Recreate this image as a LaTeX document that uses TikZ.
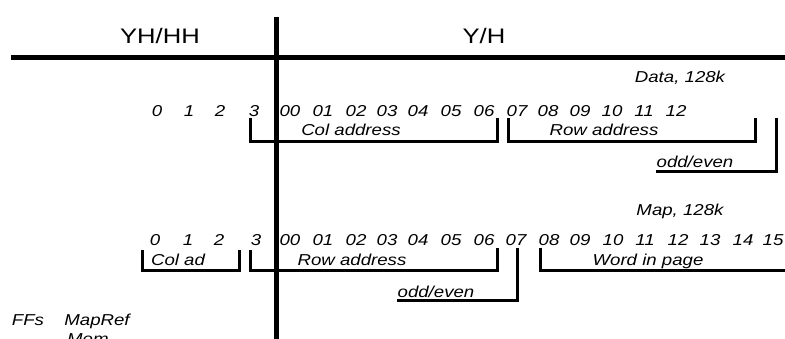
\documentclass[tikz,border=0pt]{standalone}
\usepackage{fontspec}
\newfontfamily\lab{Liberation Sans}[FakeStretch=1.18]
\newfontfamily\hdrfont{Liberation Sans}[FakeStretch=1.22]
\begin{document}
\begin{tikzpicture}[x=1pt,y=-1pt,
  thickrule/.style={line width=5pt},
  bracket/.style={line width=3pt, line join=miter},
  lbl/.style={inner sep=0pt, anchor=base, font=\lab\itshape\fontsize{15.8}{15.8}\selectfont},
  hdr/.style={inner sep=0pt, anchor=base, font=\hdrfont\fontsize{21}{21}\selectfont}]
\useasboundingbox (0,0) rectangle (785,339);
% headers and main rules
\node[hdr] (yhhh) at (160,43.5) {YH/HH};
\node[hdr] (yh) at (484,43.5) {Y/H};
\draw[thickrule] (11,58) -- (785,58);
\draw[thickrule] (276,17) -- (276,339);
% Data, 128k
\node[lbl] (data) at (680,83) {Data, 128k};
\foreach \x/\t [count=\i] in {157/0,189/1,220/2,254/3,290/00,323/01,356/02,387/03,418/04,451/05,484/06,517/07,548/08,580/09,612/10,644/11,676/12}
  \node[lbl] (a\i) at (\x,117) {\t};
\node[lbl] (coladdr) at (351,136) {Col address};
\node[lbl] (rowaddr) at (604,136) {Row address};
\node[lbl] (oe1) at (695,168) {odd/even};
\draw[bracket] (250,118) -- (250,142) -- (497,142) -- (497,118);
\draw[bracket] (508,118) -- (508,142) -- (755,142) -- (755,118);
\draw[bracket] (776,118) -- (776,172) -- (656,172);
% Map, 128k
\node[lbl] (map) at (680,216) {Map, 128k};
\foreach \x/\t [count=\i] in {155/0,188/1,219/2,256/3,290/00,323/01,356/02,387/03,418/04,451/05,484/06,516/07,549/08,580/09,613/10,645/11,678/12,710/13,743/14,773/15}
  \node[lbl] (b\i) at (\x,246) {\t};
\node[lbl] (colad) at (178,266) {Col ad};
\node[lbl] (rowaddr2) at (352,266) {Row address};
\node[lbl] (word) at (648,266) {Word in page};
\node[lbl] (oe2) at (436,298) {odd/even};
\draw[bracket] (142,250) -- (142,271) -- (239,271) -- (239,250);
\draw[bracket] (250,250) -- (250,271) -- (497,271) -- (497,248);
\draw[bracket] (517,248) -- (517,301) -- (397,301);
\draw[bracket] (540,248) -- (540,271) -- (785,271);
% bottom labels
\node[lbl] (ffs) at (28,325) {FFs};
\node[lbl] (mapref) at (97,325) {MapRef};
\node[lbl, anchor=base west] (mem) at (67,344.5) {Mem};
\end{tikzpicture}
\end{document}
